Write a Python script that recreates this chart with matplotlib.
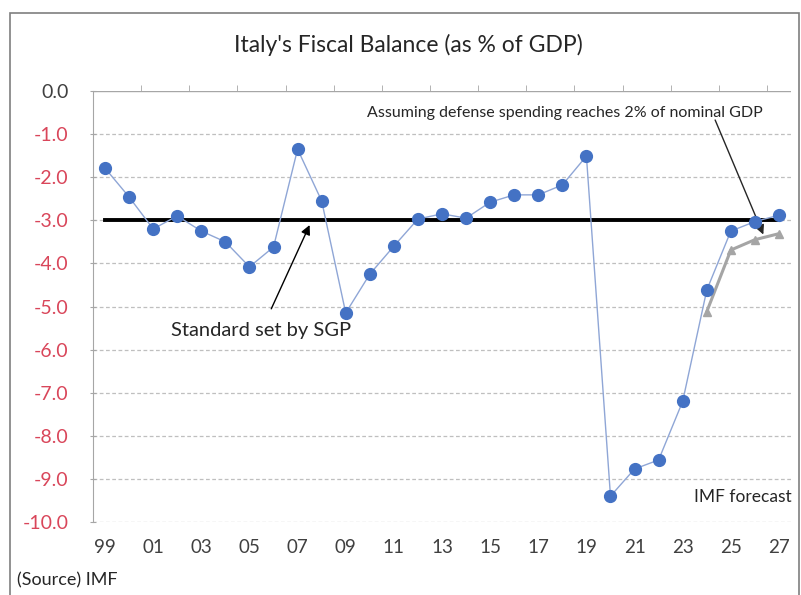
import matplotlib
matplotlib.use("Agg")
import matplotlib.pyplot as plt
from matplotlib.patches import Rectangle

plt.rcParams['font.family'] = ['Lato', 'DejaVu Sans']

years = list(range(1999, 2028))
balance = [-1.79, -2.46, -3.20, -2.90, -3.25, -3.50, -4.08, -3.62, -1.35, -2.55,
           -5.15, -4.25, -3.60, -2.97, -2.85, -2.95, -2.58, -2.41, -2.41, -2.18,
           -1.51, -9.40, -8.77, -8.56, -7.20, -4.62, -3.25, -3.03, -2.88]
defense_years = [2024, 2025, 2026, 2027]
defense_balance = [-5.12, -3.69, -3.45, -3.31]
sgp_limit = -3.0
xtick_labels = [f"{y % 100:02d}" for y in years[::2]]
ytick_values = [0, -1, -2, -3, -4, -5, -6, -7, -8, -9, -10]

W, H = 801, 595
fig = plt.figure(figsize=(W / 100, H / 100), dpi=100)
fig.patch.set_facecolor('white')

# outer chart border
fig.patches.append(Rectangle((10 / W, -0.05), 789 / W, 1.05 - 13 / H,
                             transform=fig.transFigure, fill=False,
                             edgecolor='#7f7f7f', linewidth=1.2))

ax = fig.add_axes([93 / W, 1 - 522 / H, 698 / W, 431 / H])
x = [y - 1999 for y in years]
xd = [y - 1999 for y in defense_years]

for v in ytick_values[1:]:
    ax.axhline(v, color='#bfbfbf', linewidth=0.9, linestyle=(0, (3, 2)), zorder=0)
ax.axhline(0, color='#a6a6a6', linewidth=1.0, zorder=1)

ax.plot([x[0], x[-1]], [sgp_limit, sgp_limit], color='black', linewidth=2.8, zorder=2)
ax.plot(xd, defense_balance, color='#a5a5a5', linewidth=2.2, marker='^',
        markersize=6, markerfacecolor='#a5a5a5', markeredgecolor='#a5a5a5', zorder=3)
ax.plot(x, balance, color='#8fa6d6', linewidth=1.0, zorder=4)
ax.plot(x, balance, linestyle='none', marker='o', markersize=8.5,
        markerfacecolor='#4472c4', markeredgecolor='#4472c4', zorder=5)

ax.set_xlim(-0.5, 28.5)
ax.set_ylim(-10, 0)
ax.set_yticks(ytick_values)
ax.set_yticklabels([f"{v:.1f}" for v in ytick_values], fontsize=14)
for lbl, v in zip(ax.get_yticklabels(), ytick_values):
    lbl.set_color('#404040' if v == 0 else '#d9465a')
ax.tick_params(axis='y', length=5, direction='inout', color='#a6a6a6', pad=15)

ax.set_xticks(x[::2])
ax.set_xticklabels(xtick_labels, fontsize=13.5, color='#404040')
ax.tick_params(axis='x', which='major', length=0, pad=12)
ax.set_xticks([i + 0.5 for i in range(1, 28, 2)], minor=True)
ax.tick_params(axis='x', which='minor', top=True, bottom=False, length=4,
               direction='out', color='#a6a6a6')

for s in ['top', 'right', 'bottom']:
    ax.spines[s].set_visible(False)
ax.spines['left'].set_color('#a6a6a6')

ax.annotate('Standard set by SGP', xy=(8.5, -3.11), xytext=(6.5, -5.55),
            ha='center', va='center', fontsize=14.5, color='#262626',
            arrowprops=dict(arrowstyle='-|>', color='black', lw=1.0,
                            mutation_scale=14, shrinkA=8, shrinkB=0))
ax.annotate('Assuming defense spending reaches 2% of nominal GDP', xy=(27.35, -3.33),
            xytext=(19.1, -0.51), ha='center', va='center', fontsize=11.5,
            color='#262626',
            arrowprops=dict(arrowstyle='-|>', color='#262626', lw=1.0,
                            mutation_scale=14, shrinkA=0, shrinkB=0,
                            patchA=None, relpos=(0.88, 0.0)))
ax.text(26.5, -9.42, 'IMF forecast', ha='center', va='center', fontsize=12.5,
        color='#262626')

fig.text(408 / W, 1 - 45 / H, "Italy's Fiscal Balance (as % of GDP)", ha='center',
         va='center', fontsize=16.5, color='#262626')
fig.text(17 / W, 1 - 580 / H, '(Source) IMF', ha='left', va='center', fontsize=13,
         color='#262626')

fig.savefig('out.png', dpi=100, facecolor='white')
